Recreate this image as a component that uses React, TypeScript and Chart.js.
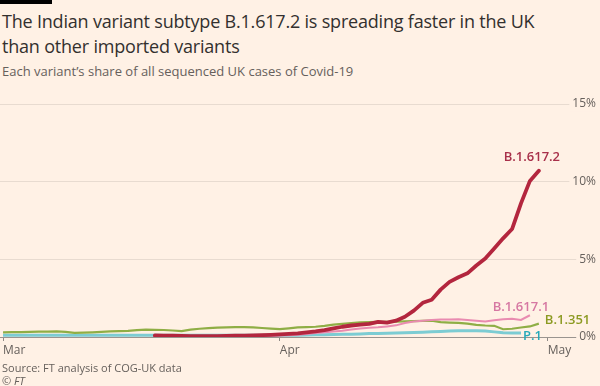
import React, { useEffect, useRef } from "react";
import { Chart, registerables } from "chart.js";

Chart.register(...registerables);

// Day offsets from 1 March 2021
const tickDays = [0, 31, 61];
const tickLabels = ["Mar", "Apr", "May"];
const yTicks = [0, 5, 10, 15];

// B.1.617.2 (starts 18 Mar)
const b16172Start = 17;
const b16172 = [
  0.10, 0.09, 0.08, 0.07, 0.06, 0.06, 0.06, 0.06, 0.07, 0.08, 0.09, 0.10, 0.12, 0.14,
  0.17, 0.20, 0.24, 0.30, 0.36, 0.44, 0.55, 0.66, 0.74, 0.79, 0.85, 0.98, 0.93, 1.05,
  1.30, 1.70, 2.20, 2.40, 3.05, 3.55, 3.85, 4.10, 4.60, 5.05, 5.70, 6.35, 6.95, 8.60,
  10.05, 10.70,
];

// B.1.617.1 (visible from 29 Mar)
const b16171Start = 28;
const b16171 = [
  0.05, 0.07, 0.08, 0.10, 0.12, 0.15, 0.20, 0.25, 0.30, 0.35, 0.40, 0.48, 0.55, 0.60,
  0.62, 0.68, 0.75, 0.90, 1.00, 1.05, 1.10, 1.12, 1.13, 1.15, 1.10, 1.05, 1.00, 1.08,
  1.15, 1.18, 1.10, 1.40,
];

// B.1.351
const b1351Start = 0;
const b1351 = [
  0.30, 0.31, 0.32, 0.33, 0.34, 0.35, 0.36, 0.33, 0.27, 0.28, 0.30, 0.33, 0.36, 0.38,
  0.40, 0.44, 0.47, 0.46, 0.45, 0.42, 0.38, 0.48, 0.53, 0.57, 0.60, 0.62, 0.63, 0.64,
  0.62, 0.58, 0.54, 0.51, 0.56, 0.62, 0.64, 0.66, 0.72, 0.80, 0.85, 0.90, 0.94, 0.96,
  0.97, 0.98, 0.99, 1.00, 1.02, 1.04, 1.05, 0.96, 0.93, 0.91, 0.86, 0.78, 0.74, 0.72,
  0.50, 0.53, 0.61, 0.68, 0.86,
];

// P.1
const p1Start = 0;
const p1 = [
  0.11, 0.11, 0.11, 0.11, 0.11, 0.11, 0.11, 0.11, 0.11, 0.11, 0.11, 0.11, 0.11, 0.11,
  0.11, 0.11, 0.11, 0.12, 0.12, 0.12, 0.12, 0.12, 0.12, 0.12, 0.12, 0.12, 0.12, 0.12,
  0.12, 0.12, 0.12, 0.12, 0.12, 0.12, 0.13, 0.14, 0.15, 0.16, 0.17, 0.18, 0.20, 0.22,
  0.23, 0.24, 0.25, 0.27, 0.29, 0.31, 0.33, 0.35, 0.38, 0.40, 0.40, 0.40, 0.38, 0.33,
  0.28, 0.26, 0.26,
];

const BG = "#FFF1E5";
const FONT = "'Open Sans', 'Noto Sans', sans-serif";

function toPoints(start: number, vals: number[]) {
  return vals.map((v, i) => ({ x: start + i, y: v }));
}

const seriesLabels = [
  { text: "B.1.617.2", color: "#a8304a", dx: -7, dy: -13, align: "center" },
  { text: "B.1.617.1", color: "#d677a2", dx: -9, dy: -8, align: "center" },
  { text: "B.1.351", color: "#8c9a22", dx: 6, dy: -3, align: "left" },
  { text: "P.1", color: "#26a9b9", dx: 2, dy: 3, align: "left" },
];

const endLabelPlugin = {
  id: "endLabels",
  afterDatasetsDraw(chart: any) {
    const ctx = chart.ctx;
    ctx.save();
    ctx.font = `600 13px ${FONT}`;
    ctx.textBaseline = "middle";
    seriesLabels.forEach((l, i) => {
      const meta = chart.getDatasetMeta(i);
      const pts = meta.data;
      const last = pts[pts.length - 1];
      if (!last) return;
      ctx.fillStyle = l.color;
      ctx.textAlign = l.align;
      ctx.fillText(l.text, last.x + l.dx, last.y + l.dy);
    });
    ctx.restore();
  },
};

export default function App() {
  const ref = useRef<HTMLCanvasElement>(null);
  useEffect(() => {
    document.body.style.margin = "0";
    const chart = new Chart(ref.current as HTMLCanvasElement, {
      type: "line",
      data: {
        datasets: [
          {
            label: "B.1.617.2",
            data: toPoints(b16172Start, b16172),
            borderColor: "#b3263e",
            borderWidth: 3.8,
            pointRadius: 0,
            tension: 0,
            borderJoinStyle: "round",
            borderCapStyle: "round",
          },
          {
            label: "B.1.617.1",
            data: toPoints(b16171Start, b16171),
            borderColor: "#e98bb0",
            borderWidth: 2,
            pointRadius: 0,
            tension: 0,
          },
          {
            label: "B.1.351",
            data: toPoints(b1351Start, b1351),
            borderColor: "#8fae45",
            borderWidth: 2.2,
            pointRadius: 0,
            tension: 0,
          },
          {
            label: "P.1",
            data: toPoints(p1Start, p1),
            borderColor: "#7cccd3",
            borderWidth: 3,
            pointRadius: 0,
            tension: 0,
          },
        ],
      },
      options: {
        animation: false,
        responsive: false,
        layout: { padding: { top: 104, right: 4, left: 0, bottom: 26.6 } },
        plugins: { legend: { display: false }, tooltip: { enabled: false } },
        scales: {
          x: {
            type: "linear",
            min: -0.34,
            max: 66.4,
            afterBuildTicks: (axis: any) => {
              axis.ticks = tickDays.map((v) => ({ value: v }));
            },
            ticks: {
              align: "start",
              maxRotation: 0,
              autoSkip: false,
              padding: 2,
              color: "#66605c",
              font: { family: FONT, size: 12 },
              callback: (v: any) => {
                const i = tickDays.indexOf(Number(v));
                return i >= 0 ? tickLabels[i] : "";
              },
            },
            grid: {
              display: true,
              drawOnChartArea: false,
              drawTicks: true,
              tickLength: 4,
              color: "#8f8a86",
            },
            border: { display: false },
          },
          y: {
            position: "right",
            min: 0,
            max: 15,
            afterBuildTicks: (axis: any) => {
              axis.ticks = yTicks.map((v) => ({ value: v }));
            },
            ticks: {
              mirror: true,
              padding: 0,
              color: "#66605c",
              font: { family: FONT, size: 12 },
              showLabelBackdrop: true,
              backdropColor: BG,
              backdropPadding: { left: 3, right: 0, top: 0, bottom: 0 },
              callback: (v: any) => `${v}%`,
            },
            grid: {
              drawTicks: false,
              color: (c: any) => (c.tick && c.tick.value === 0 ? "#9a948f" : "#e8dbd0"),
              lineWidth: 1,
            },
            border: { display: false },
          },
        },
      } as any,
      plugins: [endLabelPlugin],
    });
    return () => chart.destroy();
  }, []);

  return (
    <div
      style={{
        position: "relative",
        width: 600,
        height: 386,
        background: BG,
        overflow: "hidden",
        fontFamily: FONT,
      }}
    >
      <div style={{ position: "absolute", left: 0, top: 0, width: 52, height: 4, background: "#000" }} />
      <div
        style={{
          position: "absolute",
          left: 2,
          top: 9,
          fontSize: 18,
          lineHeight: "25px",
          color: "#33302e",
          whiteSpace: "nowrap",
          letterSpacing: "-0.2px",
        }}
      >
        The Indian variant subtype B.1.617.2 is spreading faster in the UK
        <br />
        than other imported variants
      </div>
      <div
        style={{
          position: "absolute",
          left: 2,
          top: 62,
          fontSize: 13,
          lineHeight: "18px",
          color: "#66605c",
          whiteSpace: "nowrap",
        }}
      >
        Each variant’s share of all sequenced UK cases of Covid-19
      </div>
      <canvas
        ref={ref}
        width={600}
        height={386}
        style={{ position: "absolute", left: 0, top: 0, width: 600, height: 386 }}
      />
      <div
        style={{
          position: "absolute",
          left: 2,
          top: 361,
          fontSize: 11,
          lineHeight: "13px",
          color: "#66605c",
          whiteSpace: "nowrap",
        }}
      >
        Source: FT analysis of COG-UK data
        <br />© <i>FT</i>
      </div>
    </div>
  );
}
